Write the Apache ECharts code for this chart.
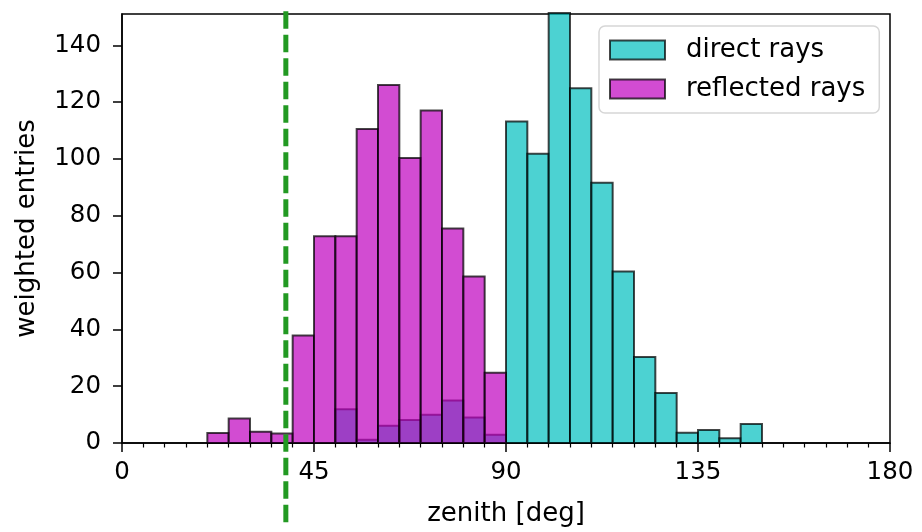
<!DOCTYPE html>
<html>
<head>
<meta charset="utf-8">
<script src="https://cdn.jsdelivr.net/npm/echarts@6/dist/echarts.min.js"></script>
<style>html,body{margin:0;padding:0;background:#fff}#c{width:922px;height:532px}</style>
</head>
<body>
<div id="c"></div>
<script>
// Bin left edges (deg), bin width 5 deg
const directBins   = [50, 55, 60, 65, 70, 75, 80, 85, 90, 95, 100, 105, 110, 115, 120, 125, 130, 135, 140, 145];
const directVals   = [11.9, 1.1, 6.1, 8.1, 9.9, 15, 9, 2.9, 113.2, 101.8, 158, 124.9, 91.6, 60.4, 30.3, 17.6, 3.6, 4.6, 1.7, 6.7];
const reflectedBins = [20, 25, 30, 35, 40, 45, 50, 55, 60, 65, 70, 75, 80, 85];
const reflectedVals = [3.5, 8.6, 4, 3.3, 37.8, 72.8, 72.8, 110.5, 126, 100.3, 117, 75.5, 58.6, 24.7];
const binWidth = 5;
const cutLine = [38.4];
const xTicks = [0, 45, 90, 135, 180];
const yTicks = [0, 20, 40, 60, 80, 100, 120, 140];

const FONT = 'DejaVu Sans';
const cyanFill = 'rgba(0,191,191,0.7)';
const magFill = 'rgba(191,0,191,0.7)';
const edge = 'rgba(0,0,0,0.72)';

function mk(bins, vals) { return bins.map((b, i) => [b, b + binWidth, vals[i]]); }

function barRender(fill) {
  return function (params, api) {
    const p0 = api.coord([api.value(0), 0]);
    const p1 = api.coord([api.value(1), api.value(2)]);
    const cs = params.coordSys;
    const shape = echarts.graphic.clipRectByRect(
      { x: p0[0], y: p1[1], width: p1[0] - p0[0], height: p0[1] - p1[1] },
      { x: cs.x, y: cs.y - 1, width: cs.width, height: cs.height + 1 }
    );
    if (!shape) return;
    return { type: 'rect', shape: shape, style: { fill: fill, stroke: edge, lineWidth: 2 } };
  };
}

const chart = echarts.init(document.getElementById('c'), null, { renderer: 'canvas' });
chart.setOption({
  animation: false,
  textStyle: { fontFamily: FONT, color: '#000' },
  grid: { left: 122, right: 32, top: 14, bottom: 83, show: true, borderColor: '#000', borderWidth: 1.5 },
  legend: {
    left: 599, top: 26, orient: 'vertical', selectedMode: false,
    itemWidth: 55, itemHeight: 19, itemGap: 13,
    padding: [11, 14, 11, 10],
    backgroundColor: 'rgba(255,255,255,0.85)', borderColor: '#d6d6d6', borderWidth: 1.5, borderRadius: 6,
    textStyle: { fontFamily: FONT, fontSize: 26, color: '#000', padding: [0, 0, 0, 16] },
    data: [
      { name: 'direct rays', icon: 'rect', itemStyle: { color: cyanFill, borderColor: edge, borderWidth: 2 } },
      { name: 'reflected rays', icon: 'rect', itemStyle: { color: magFill, borderColor: edge, borderWidth: 2 } }
    ]
  },
  xAxis: {
    type: 'value', min: xTicks[0], max: xTicks[xTicks.length - 1], interval: 45,
    name: 'zenith [deg]', nameLocation: 'middle', nameGap: 58,
    nameTextStyle: { fontFamily: FONT, fontSize: 26, color: '#000' },
    axisLine: { show: true, onZero: false, lineStyle: { color: '#000', width: 1.5 } },
    axisTick: { show: true, length: 9, lineStyle: { color: '#000', width: 1.5 } },
    minorTick: { show: true, splitNumber: 9, length: 4.5, lineStyle: { color: '#000', width: 1.2 } },
    axisLabel: { fontFamily: FONT, fontSize: 24.5, color: '#000', margin: 17 },
    splitLine: { show: false }
  },
  yAxis: {
    type: 'value', min: yTicks[0], max: 151, interval: 20,
    name: 'weighted entries', nameLocation: 'middle', nameGap: 82,
    nameTextStyle: { fontFamily: FONT, fontSize: 26, color: '#000' },
    axisLine: { show: true, lineStyle: { color: '#000', width: 1.5 } },
    axisTick: { show: true, length: 9, lineStyle: { color: '#000', width: 1.5 } },
    axisLabel: { fontFamily: FONT, fontSize: 24.5, color: '#000', margin: 21, showMaxLabel: false },
    splitLine: { show: false }
  },
  series: [
    { name: 'direct rays', type: 'custom', renderItem: barRender(cyanFill), encode: { x: [0, 1], y: 2 },
      itemStyle: { color: cyanFill }, data: mk(directBins, directVals), z: 2 },
    { name: 'reflected rays', type: 'custom', renderItem: barRender(magFill), encode: { x: [0, 1], y: 2 },
      itemStyle: { color: magFill }, data: mk(reflectedBins, reflectedVals), z: 3 },
    { name: 'cut', type: 'custom', z: 10, silent: true, encode: { x: 0 },
      renderItem: function (params, api) {
        const a = api.coord([api.value(0), 152]);
        const b = api.coord([api.value(0), -29]);
        return { type: 'line', shape: { x1: a[0], y1: a[1], x2: b[0], y2: b[1] },
          style: { stroke: '#229922', lineWidth: 5, lineDash: [17.5, 6] } };
      },
      data: cutLine.map(v => [v]) }
  ]
});
</script>
</body>
</html>
